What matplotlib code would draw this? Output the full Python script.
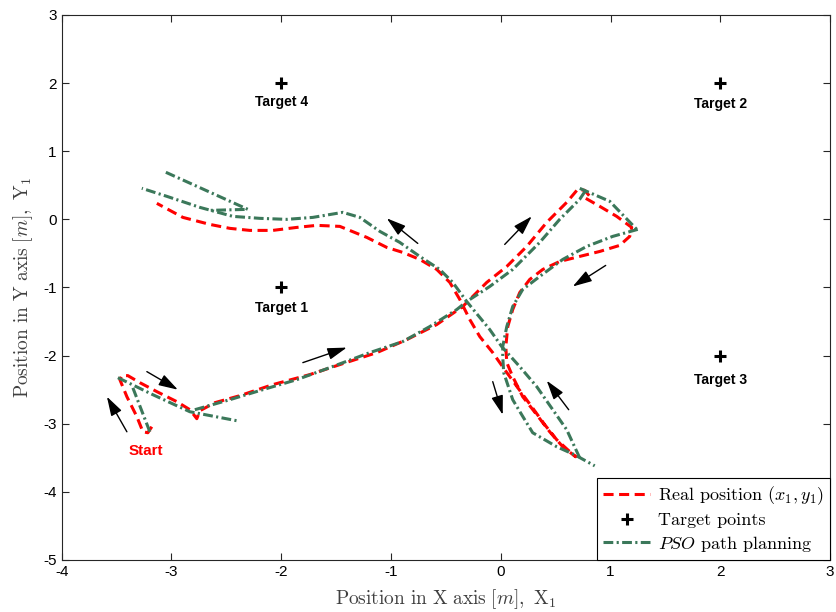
import matplotlib
matplotlib.use("Agg")
import matplotlib.pyplot as plt
from matplotlib.patches import FancyArrowPatch

plt.rcParams['mathtext.fontset'] = 'cm'
plt.rcParams['axes.unicode_minus'] = False
plt.rcParams['font.family'] = ['Liberation Sans', 'DejaVu Sans']

# ---------------- data ----------------
red_x = [-3.179, -3.215, -3.260, -3.315, -3.406, -3.470, -3.452, -3.397, -3.288, -3.133, -2.951, -2.832,
         -2.769, -2.741, -2.605, -2.377, -2.077, -1.740, -1.466, -1.129, -0.856, -0.583, -0.346, -0.128,
         0.055, 0.237, 0.419, 0.601, 0.701, 0.765, 0.811, 0.774, 0.902, 1.056, 1.193, 1.175, 1.084, 0.902,
         0.719, 0.537, 0.383, 0.264, 0.173, 0.109, 0.064, 0.046, 0.055, 0.109, 0.200, 0.328, 0.446, 0.565,
         0.683, 0.610, 0.510, 0.401, 0.282, 0.155, 0.036, -0.073, -0.191, -0.282, -0.373, -0.464, -0.583,
         -0.738, -0.893, -1.038, -1.220, -1.466, -1.676, -1.858, -2.077, -2.286, -2.468, -2.650, -2.896,
         -3.133]
red_y = [-3.044, -3.132, -3.118, -2.897, -2.603, -2.353, -2.294, -2.294, -2.397, -2.529, -2.676, -2.794,
         -2.926, -2.809, -2.691, -2.588, -2.426, -2.279, -2.132, -1.956, -1.765, -1.544, -1.279, -0.926,
         -0.691, -0.397, -0.044, 0.250, 0.441, 0.426, 0.338, 0.309, 0.191, 0.044, -0.118, -0.250, -0.382,
         -0.471, -0.544, -0.618, -0.735, -0.882, -1.074, -1.324, -1.574, -1.868, -2.103, -2.309, -2.603,
         -2.868, -3.118, -3.338, -3.485, -3.382, -3.235, -3.015, -2.750, -2.471, -2.206, -1.956, -1.721,
         -1.471, -1.176, -0.926, -0.735, -0.588, -0.485, -0.412, -0.265, -0.103, -0.088, -0.118, -0.162,
         -0.162, -0.132, -0.074, 0.029, 0.235]

# PSO path planning segments
pso1_x = [-3.197, -3.352]
pso1_y = [-3.118, -2.471]
pso2_x = [-3.488, -3.169, -2.832, -2.404]
pso2_y = [-2.324, -2.574, -2.824, -2.956]
pso3_x = [-2.787, -2.468, -2.168, -1.858, -1.557, -1.193, -0.893, -0.647, -0.401, -0.310, -0.100, 0.109,
          0.355, 0.537, 0.719, 0.774]
pso3_y = [-2.794, -2.647, -2.500, -2.353, -2.176, -1.956, -1.794, -1.574, -1.324, -1.206, -0.985, -0.735,
          -0.338, 0.000, 0.294, 0.426]
pso4_x = [0.720, 0.993, 1.248]
pso4_y = [0.455, 0.265, -0.162]
pso5_x = [1.248, 1.020, 0.783, 0.565, 0.355, 0.200, 0.109, 0.055, 0.018, 0.018, 0.027, 0.109, 0.191,
          0.291, 0.510, 0.674, 0.856]
pso5_y = [-0.147, -0.250, -0.397, -0.588, -0.838, -1.029, -1.279, -1.574, -1.868, -2.015, -2.250, -2.647,
          -2.868, -3.132, -3.338, -3.456, -3.618]
pso6_x = [0.719, 0.601, 0.474, 0.328, 0.173, 0.009, -0.100, -0.310, -0.437, -0.556, -0.738, -0.920,
          -1.102, -1.284, -1.439, -1.712, -1.949, -2.195, -2.441, -2.741, -3.042, -3.270]
pso6_y = [-3.500, -3.088, -2.794, -2.456, -2.162, -1.868, -1.618, -1.206, -0.926, -0.735, -0.544, -0.338,
          -0.176, 0.029, 0.103, 0.029, 0.000, 0.015, 0.044, 0.176, 0.338, 0.456]
pso7_x = [-3.051, -2.304, -2.650]
pso7_y = [0.691, 0.147, 0.132]

target_x = [-2, 2, 2, -2]
target_y = [-1, 2, -2, 2]
target_names = ['Target 1', 'Target 2', 'Target 3', 'Target 4']
target_label_y = [-1.30, 1.70, -2.36, 1.73]

start_label = 'Start'
start_pos = (-3.23, -3.40)

arrow_tail_x = [-3.406, -3.224, -1.803, -0.756, 0.036, 0.956, -0.073, 0.619]
arrow_tail_y = [-3.118, -2.235, -2.103, -0.353, -0.368, -0.676, -2.382, -2.794]
arrow_head_x = [-3.588, -2.942, -1.403, -1.038, 0.282, 0.656, 0.018, 0.419]
arrow_head_y = [-2.603, -2.500, -1.882, 0.015, 0.044, -0.985, -2.868, -2.368]

xticks = [-4, -3, -2, -1, 0, 1, 2, 3]
yticks = [-5, -4, -3, -2, -1, 0, 1, 2, 3]

# ---------------- plot ----------------
fig = plt.figure(figsize=(8.37, 6.12), dpi=100)
ax = fig.add_axes([0.0737, 0.085, 0.918, 0.8905])

red_ls = (0, (3.3, 1.8))
green_c = '#3b785a'
green_ls = (0, (3.2, 1.1, 0.7, 1.1))

ax.plot(red_x, red_y, color='#ff0000', lw=2.2, linestyle=red_ls,
        label=r'Real position $(x_1, y_1)\hspace{1.2}$')
ax.plot(target_x, target_y, linestyle='none', marker='+', markersize=9, markeredgewidth=2.2,
        color='black', label='Target points')
first = True
for sx, sy in [(pso1_x, pso1_y), (pso2_x, pso2_y), (pso3_x, pso3_y), (pso4_x, pso4_y),
               (pso5_x, pso5_y), (pso6_x, pso6_y), (pso7_x, pso7_y)]:
    ax.plot(sx, sy, color=green_c, lw=2.2, linestyle=green_ls,
            label=r'$PSO$ path planning' if first else None)
    first = False

for tx, ty, name in zip(target_x, target_label_y, target_names):
    ax.text(tx, ty, name, ha='center', va='center', fontsize=10, fontweight='bold', color='black')
ax.text(start_pos[0], start_pos[1], start_label, ha='center', va='center', fontsize=11,
        fontweight='bold', color='#ff0000')

for x0, y0, x1, y1 in zip(arrow_tail_x, arrow_tail_y, arrow_head_x, arrow_head_y):
    ax.add_patch(FancyArrowPatch((x0, y0), (x1, y1), arrowstyle='-|>,head_length=1.3,head_width=0.4',
                                 mutation_scale=9, color='black', lw=1.0, shrinkA=0, shrinkB=0))

ax.set_xlim(-4, 3)
ax.set_ylim(-5, 3)
ax.set_xticks(xticks)
ax.set_yticks(yticks)
ax.set_xticklabels([str(v) for v in xticks])
ax.set_yticklabels([str(v) for v in yticks])
ax.tick_params(direction='in', length=5, width=0.8, labelsize=11, top=True, right=True, colors='#262626')
ax.tick_params(labelcolor='black')
for s in ax.spines.values():
    s.set_linewidth(0.8)
    s.set_color('#262626')

ax.set_xlabel(r'$\mathrm{Position\ in\ X\ axis\ }[m]\mathrm{,\ X}_1$', fontsize=14, labelpad=6, color='#404040')
ax.set_ylabel(r'$\mathrm{Position\ in\ Y\ axis\ }[m]\mathrm{,\ Y}_1$', fontsize=14, labelpad=6, color='#404040')

leg = ax.legend(loc='lower right', frameon=True, fancybox=False, framealpha=1,
                edgecolor='black', borderaxespad=0.0, handlelength=2.6, borderpad=0.35,
                labelspacing=0.3, handletextpad=0.4, prop={'family': 'cmr10', 'size': 13})
leg.get_frame().set_linewidth(0.8)

fig.savefig('out.png', dpi=100)
